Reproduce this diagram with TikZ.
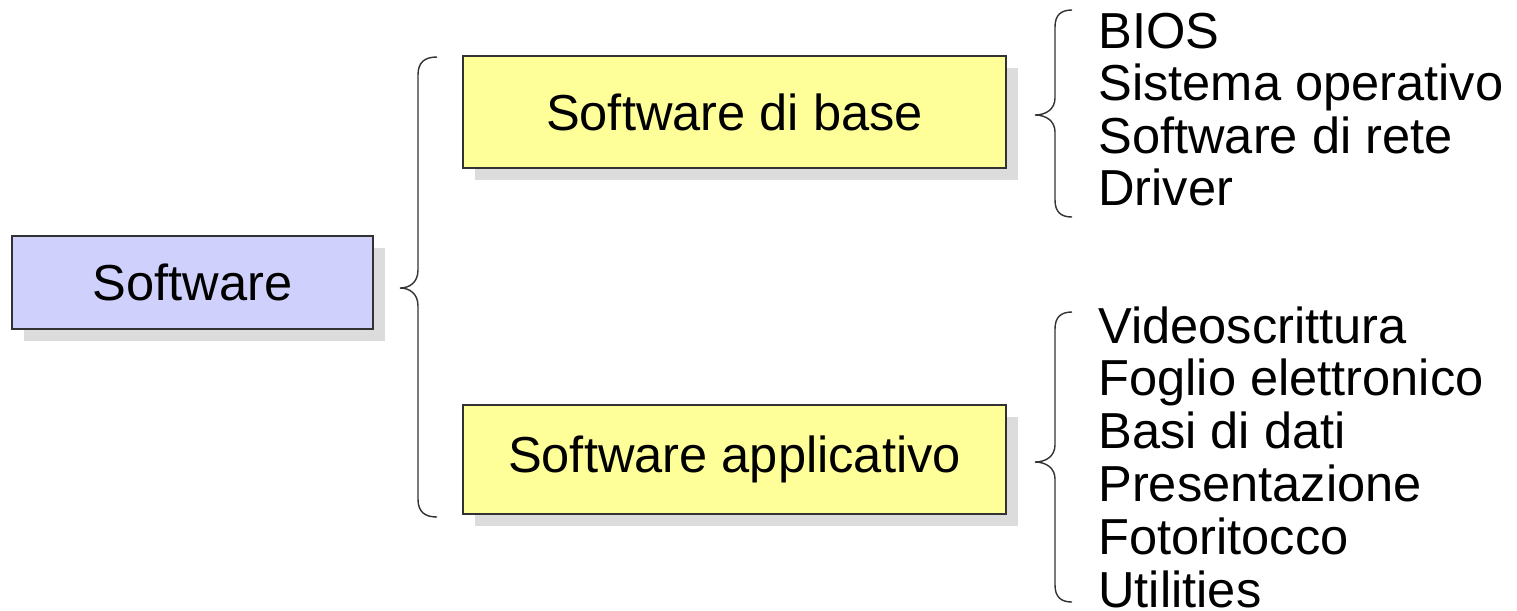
\documentclass[tikz,border=0pt]{standalone}
\usepackage{fontspec}
\setmainfont{Liberation Sans}
\usetikzlibrary{shadows}
\definecolor{lav}{RGB}{208,208,252}
\definecolor{yel}{RGB}{255,255,153}
\definecolor{shd}{RGB}{220,220,220}
\definecolor{edge}{RGB}{50,50,50}
\begin{document}
\begin{tikzpicture}[x=0.02cm,y=-0.02cm,
  box/.style={draw=edge,line width=0.7pt,inner sep=0pt,
    font=\fontsize{28.8}{30}\selectfont,
    drop shadow={shadow xshift=0.24cm,shadow yshift=-0.24cm,fill=shd,opacity=1}},
  item/.style={anchor=base west,inner sep=0pt,font=\fontsize{28.8}{30}\selectfont},
  bracestyle/.style={draw=edge,line width=0.8pt}]
\useasboundingbox (0,0) rectangle (1517,610);
\node[box,fill=lav,minimum width=361*0.02cm,minimum height=93*0.02cm] (sw) at (192.5,282.5) {Software};
\node[box,fill=yel,minimum width=543*0.02cm,minimum height=112*0.02cm] (base) at (734.5,112) {Software di base};
\node[box,fill=yel,minimum width=543*0.02cm,minimum height=109*0.02cm] (app) at (734.5,459.5) {Software applicativo};
% list items
\node[item] (b1) at (1098,48) {BIOS};
\node[item] (b2) at (1098,100.5) {Sistema operativo};
\node[item] (b3) at (1098,153) {Software di rete};
\node[item] (b4) at (1098,205.5) {Driver};
\node[item] (a1) at (1098,343) {Videoscrittura};
\node[item] (a2) at (1098,395.8) {Foglio elettronico};
\node[item] (a3) at (1098,448.6) {Basi di dati};
\node[item] (a4) at (1098,501.4) {Presentazione};
\node[item] (a5) at (1098,554.2) {Fotoritocco};
\node[item] (a6) at (1098,607) {Utilities};
% braces
\coordinate (t1) at (400,288);
\draw[bracestyle] (437,57) .. controls (425,57) and (418,62) .. (418,75) -- (418,270)
  .. controls (418,282) and (410,288) .. (t1)
  .. controls (410,288) and (418,294) .. (418,306) -- (418,499)
  .. controls (418,512) and (425,517) .. (437,517);
\coordinate (t2) at (1035,115);
\draw[bracestyle] (1072,10) .. controls (1061,10) and (1055,15) .. (1055,27) -- (1055,98)
  .. controls (1055,109) and (1046,115) .. (t2)
  .. controls (1046,115) and (1055,121) .. (1055,132) -- (1055,200)
  .. controls (1055,212) and (1061,217) .. (1072,217);
\coordinate (t3) at (1035,462);
\draw[bracestyle] (1072,312) .. controls (1061,312) and (1055,317) .. (1055,329) -- (1055,445)
  .. controls (1055,456) and (1046,462) .. (t3)
  .. controls (1046,462) and (1055,468) .. (1055,479) -- (1055,585)
  .. controls (1055,597) and (1061,602) .. (1072,602);
\end{tikzpicture}
\end{document}
